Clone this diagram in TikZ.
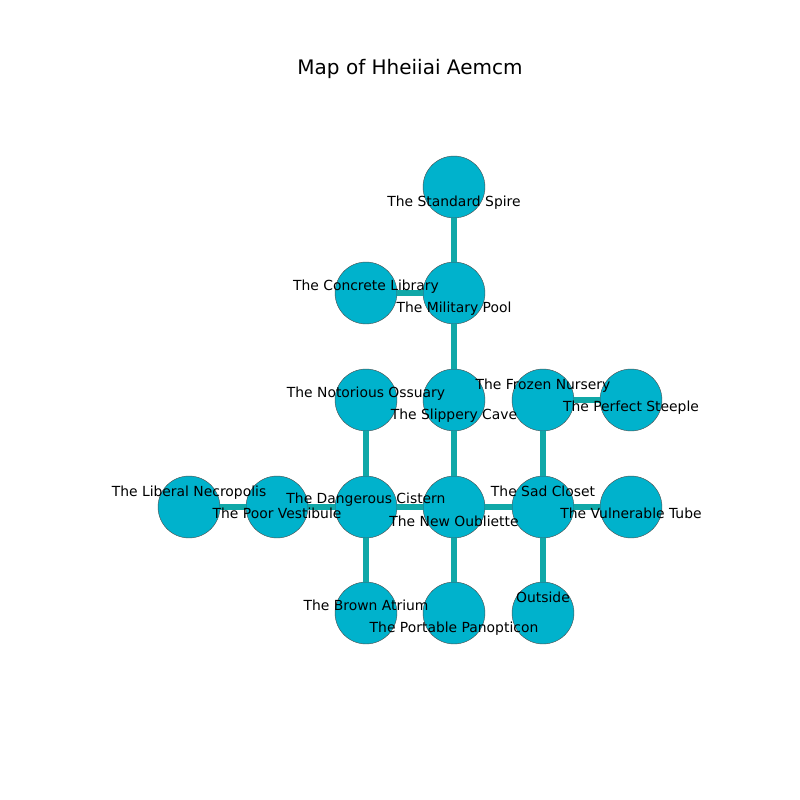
\documentclass[tikz,border=0pt]{standalone}
\usepackage{fontspec}
\setmainfont{DejaVu Sans}
\usepackage{tikz}
\usetikzlibrary{positioning}
\definecolor{roomcolor}{RGB}{0,178,204}
\definecolor{pathcolor}{RGB}{16,168,168}

\begin{document}
\begin{tikzpicture}[x=0.72pt,y=-0.72pt]
\tikzset{room/.style={circle, fill=roomcolor, draw=gray!60!black, line width=0.3pt, minimum size=44.6pt, inner sep=0pt},
  corridor/.style={pathcolor, line width=4pt},
  roomname/.style={font=\fontsize{10}{12}\selectfont, inner sep=0pt, text height=7.6pt, text depth=2.4pt, yshift=-1.5pt}}
\useasboundingbox (0,0) rectangle (800,800);
\node[yshift=-1.5pt] (title) at (410,67) {\fontsize{14.4}{17}\selectfont Map of Hheiiai Aemcm};
% rooms
\foreach \n/\x/\y in {spire/454/187, library/366/293, pool/454/293,
    ossuary/366/400, cave/454/400, nursery/543/400, steeple/631/400,
    necropolis/189/507, vestibule/277/507, cistern/366/507, oubliette/454/507,
    closet/543/507, tube/631/507,
    atrium/366/613, panopticon/454/613, outside/543/613}
  \node[room] (\n) at (\x,\y) {};
% corridors
\foreach \a/\b in {spire/pool, library/pool, pool/cave, nursery/steeple,
    ossuary/cistern, cave/oubliette, nursery/closet,
    necropolis/vestibule, vestibule/cistern, cistern/oubliette,
    oubliette/closet, closet/tube,
    cistern/atrium, oubliette/panopticon, closet/outside}
  \draw[corridor] (\a) -- (\b);
% names
\foreach \n/\x/\y/\t in {spire/454/201/The Standard Spire,
    library/366/285/The Concrete Library, pool/454/307/The Military Pool,
    ossuary/366/392/The Notorious Ossuary, cave/454/414/The Slippery Cave,
    nursery/543/384/The Frozen Nursery, steeple/631/406/The Perfect Steeple,
    necropolis/189/491/The Liberal Necropolis, vestibule/277/513/The Poor Vestibule,
    cistern/366/498/The Dangerous Cistern, oubliette/454/521/The New Oubliette,
    closet/543/491/The Sad Closet, tube/631/513/The Vulnerable Tube,
    atrium/366/605/The Brown Atrium, panopticon/454/627/The Portable Panopticon,
    outside/543/597/Outside}
  \node[roomname] (\n-name) at (\x,\y) {\t};
\end{tikzpicture}
\end{document}
